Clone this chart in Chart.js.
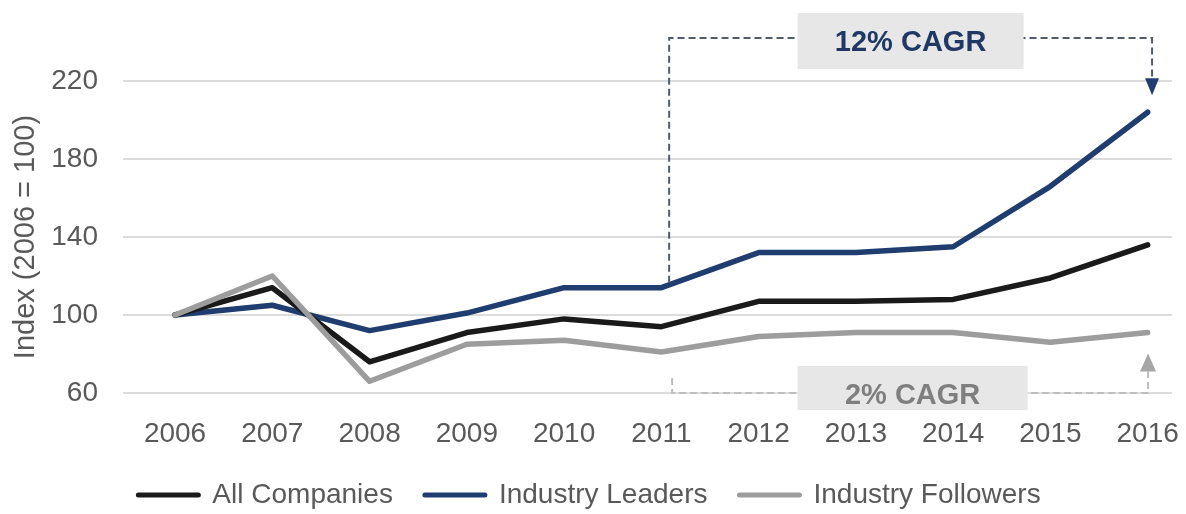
<!DOCTYPE html>
<html>
<head>
<meta charset="utf-8">
<script src="https://cdn.jsdelivr.net/npm/chart.js@4.4.1/dist/chart.umd.min.js"></script>
<style>
  html, body { margin: 0; padding: 0; background: #ffffff; }
  #wrap { width: 1186px; height: 514px; position: relative; }
</style>
</head>
<body>
<div id="wrap"><canvas id="perf"></canvas></div>
<script>
// Index values, 2006 = 100
const years = [2006, 2007, 2008, 2009, 2010, 2011, 2012, 2013, 2014, 2015, 2016];
const allCompanies = [100, 114, 76, 91, 98, 94, 107, 107, 108, 119, 136];
const industryLeaders = [100, 105, 92, 101, 114, 114, 132, 132, 135, 166, 204];
const industryFollowers = [100, 120, 66, 85, 87, 81, 89, 91, 91, 86, 91];
const yTicks = [60, 100, 140, 180, 220];

const seriesNames = ['All Companies', 'Industry Leaders', 'Industry Followers'];
const leadersCagr = '12% CAGR';
const followersCagr = '2% CAGR';

const NAVY = '#1f3d6f';
const BLACK = '#1a1a1a';
const GREY = '#9d9d9d';
const TEXT = '#595959';
const FONT = "'Liberation Sans', Arial, sans-serif";

const toPoints = vals => years.map((yr, i) => ({ x: yr, y: vals[i] }));

function lineSet(label, vals, color, order) {
  return {
    label,
    data: toPoints(vals),
    borderColor: color,
    backgroundColor: color,
    borderWidth: 5.5,
    pointRadius: 0,
    tension: 0,
    borderJoinStyle: 'round',
    borderCapStyle: 'round',
    order,
  };
}

// CAGR brackets: dashed connectors, arrowheads and label boxes
const cagrBrackets = {
  id: 'cagrBrackets',
  afterDatasetsDraw(chart) {
    const { ctx } = chart;
    const xs = chart.scales.x;
    const ys = chart.scales.y;
    const xL = xs.getPixelForValue(2011.08);
    const xR = xs.getPixelForValue(2016.045);
    const midX = (xL + xR) / 2;

    ctx.save();
    ctx.lineWidth = 2;
    ctx.setLineDash([7, 4]);

    // leaders bracket (above the plot)
    const topY = ys.getPixelForValue(242);
    const leadStartY = ys.getPixelForValue(industryLeaders[5]) - 5;
    const leadTipY = ys.getPixelForValue(industryLeaders[10]) - 17;
    ctx.strokeStyle = '#505c6c';
    ctx.beginPath();
    ctx.moveTo(xL, leadStartY);
    ctx.lineTo(xL, topY);
    ctx.lineTo(xR, topY);
    ctx.lineTo(xR, leadTipY - 16);
    ctx.stroke();

    // followers bracket (along the floor)
    const floorY = ys.getPixelForValue(60);
    const folTipY = ys.getPixelForValue(industryFollowers[10]) + 21;
    const xL2 = xL + 3;
    const xR2 = xR - 4;
    ctx.strokeStyle = '#bdbdbd';
    ctx.beginPath();
    ctx.moveTo(xL2, floorY - 15);
    ctx.lineTo(xL2, floorY);
    ctx.lineTo(xR2, floorY);
    ctx.lineTo(xR2, folTipY + 18);
    ctx.stroke();
    ctx.setLineDash([]);

    // arrowheads
    ctx.fillStyle = NAVY;
    ctx.beginPath();
    ctx.moveTo(xR - 7, leadTipY - 17);
    ctx.lineTo(xR + 7, leadTipY - 17);
    ctx.lineTo(xR, leadTipY);
    ctx.closePath();
    ctx.fill();

    ctx.fillStyle = '#a6a6a6';
    ctx.beginPath();
    ctx.moveTo(xR2 - 8, folTipY + 18);
    ctx.lineTo(xR2 + 8, folTipY + 18);
    ctx.lineTo(xR2, folTipY);
    ctx.closePath();
    ctx.fill();

    // label boxes
    ctx.fillStyle = '#e7e7e7';
    ctx.fillRect(midX - 113, topY - 25, 226, 56);
    ctx.fillRect(midX - 113, floorY - 27, 230, 44);

    ctx.font = 'bold 29px ' + FONT;
    ctx.textAlign = 'center';
    ctx.textBaseline = 'middle';
    ctx.fillStyle = '#1f3864';
    ctx.fillText(leadersCagr, midX, topY + 5);
    ctx.fillStyle = '#7f7f7f';
    ctx.fillText(followersCagr, midX + 2, floorY + 3);
    ctx.restore();
  }
};

new Chart(document.getElementById('perf'), {
  type: 'line',
  data: {
    datasets: [
      lineSet(seriesNames[0], allCompanies, BLACK, 2),
      lineSet(seriesNames[1], industryLeaders, NAVY, 3),
      lineSet(seriesNames[2], industryFollowers, GREY, 1),
    ]
  },
  options: {
    responsive: true,
    maintainAspectRatio: false,
    animation: false,
    layout: { padding: { left: 7, right: 14, top: 81, bottom: 0 } },
    plugins: {
      tooltip: { enabled: false },
      legend: {
        position: 'bottom',
        maxHeight: 65,
        labels: {
          color: TEXT,
          font: { family: FONT, size: 28 },
          usePointStyle: true,
          pointStyleWidth: 60,
          padding: 32,
          generateLabels(chart) {
            return chart.data.datasets.map((ds, i) => ({
              text: ds.label,
              datasetIndex: i,
              pointStyle: 'line',
              strokeStyle: ds.borderColor,
              fillStyle: ds.borderColor,
              lineWidth: 5,
              lineCap: 'round',
              fontColor: TEXT,
              hidden: false,
            }));
          }
        }
      }
    },
    scales: {
      x: {
        type: 'linear',
        min: 2005.465,
        max: 2016.25,
        afterBuildTicks(scale) { scale.ticks = years.map(v => ({ value: v })); },
        afterFit(scale) {
          scale.height = 56;
          scale.paddingLeft = 0;
          scale.paddingRight = 0;
        },
        grid: { display: false },
        border: { display: false },
        ticks: {
          color: TEXT,
          padding: 16,
          maxRotation: 0,
          font: { family: FONT, size: 28 },
          callback: v => String(v),
        }
      },
      y: {
        min: 60,
        max: 220,
        afterBuildTicks(scale) { scale.ticks = yTicks.map(v => ({ value: v })); },
        afterFit(scale) {
          scale.width = 116;
          scale.paddingTop = 0;
          scale.paddingBottom = 0;
        },
        grid: { color: '#dcdcdc', lineWidth: 2, drawTicks: false },
        border: { display: false },
        ticks: {
          color: TEXT,
          padding: 25,
          font: { family: FONT, size: 28 },
        },
        title: {
          display: true,
          text: 'Index (2006 = 100)',
          color: TEXT,
          font: { family: FONT, size: 29 },
          padding: { top: 2, bottom: 4 },
        }
      }
    }
  },
  plugins: [cagrBrackets]
});
</script>
</body>
</html>
